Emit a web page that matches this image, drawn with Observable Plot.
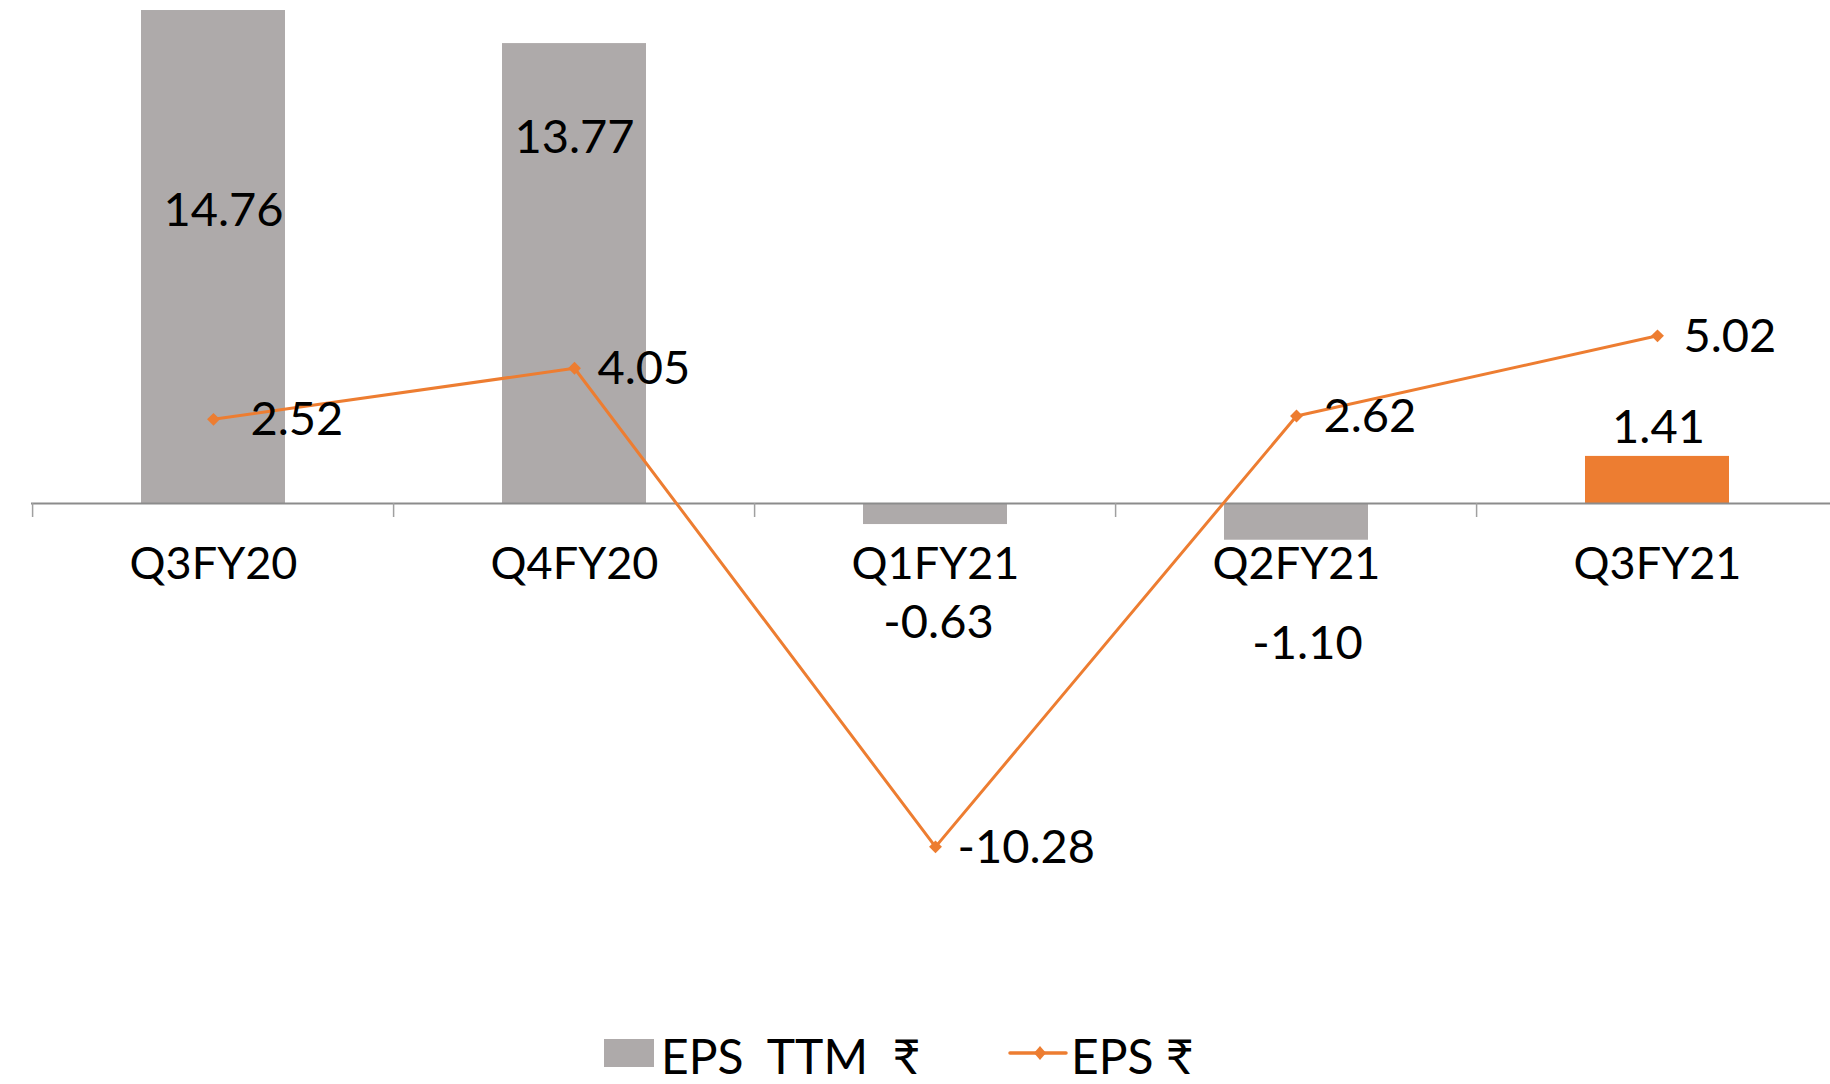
<!DOCTYPE html>
<html>
<head>
<meta charset="utf-8">
<script src="https://cdn.jsdelivr.net/npm/d3@7"></script>
<script src="https://cdn.jsdelivr.net/npm/@observablehq/plot@0.6"></script>
<style>
  html, body { margin: 0; padding: 0; background: #fff; }
  body { width: 1830px; height: 1084px; overflow: hidden; font-family: Lato, "Noto Sans", "DejaVu Sans", sans-serif; }
  #legend { position: relative; width: 1830px; height: 84px; }
  .lg-item { position: absolute; font-size: 48px; line-height: 48px; white-space: pre; color: #000; }
</style>
</head>
<body>
<div id="chart"></div>
<div id="legend"></div>
<script>
// ---- data ----
const categories = ["Q3FY20", "Q4FY20", "Q1FY21", "Q2FY21", "Q3FY21"];
const epsTTM = [14.76, 13.77, -0.63, -1.10, 1.41];
const eps = [2.52, 4.05, -10.28, 2.62, 5.02];
const highlight = "Q3FY21";
const seriesNames = ["EPS  TTM  \u20B9", "EPS \u20B9"];

// ---- styling / layout (not data) ----
const grey = "#AEAAAA";
const orange = "#ED7D31";
const W = 1830, H = 1000;
const xRange = [31, 1840];
const step = (xRange[1] - xRange[0]) / categories.length;
const barLabelDx = [10, 0, 3, 11, 1];
const barLabelDy = [200, 94, 98, 104, -28];
const lineLabelDx = [37, 23, 22, 27, 26];

const idx = categories.map((_, i) => i);

const chart = Plot.plot({
  width: W,
  height: H,
  marginLeft: 31,
  marginRight: 0,
  marginTop: 0,
  marginBottom: 0,
  style: {fontFamily: "Lato, 'Noto Sans', sans-serif", background: "#fff", color: "#000"},
  x: {type: "band", domain: categories, range: xRange, paddingInner: 0.6, paddingOuter: 0.3, axis: null},
  y: {domain: [-14, 15], range: [970.6, 2], axis: null},
  color: {type: "identity"},
  marks: [
    Plot.barY(idx, {
      x: i => categories[i],
      y: i => epsTTM[i],
      fill: i => categories[i] === highlight ? orange : grey
    }),
    Plot.ruleY([0], {stroke: "#8c8c8c", strokeWidth: 2.2}),
    Plot.ruleX(categories, {x: d => d, dx: -step / 2, y1: 0, y2: 0, insetBottom: -14, stroke: "#a0a0a0", strokeWidth: 1.5}),
    Plot.text(categories, {x: d => d, y: 0, dy: 61, text: d => d, fontSize: 45, fill: "#000"}),
    Plot.line(idx, {x: i => categories[i], y: i => eps[i], stroke: orange, strokeWidth: 3}),
    Plot.dot(idx, {x: i => categories[i], y: i => eps[i], symbol: "diamond2", r: 5.8, fill: orange, stroke: "none"}),
    ...idx.map(i => Plot.text([i], {
      x: j => categories[j], y: j => epsTTM[j], text: j => epsTTM[j].toFixed(2),
      dx: barLabelDx[i], dy: barLabelDy[i], fontSize: 47, fill: "#000"
    })),
    ...idx.map(i => Plot.text([i], {
      x: j => categories[j], y: j => eps[j], text: j => eps[j].toFixed(2),
      dx: lineLabelDx[i], dy: 1, textAnchor: "start", fontSize: 47, fill: "#000"
    }))
  ]
});
document.getElementById("chart").appendChild(chart);

// ---- legend (HTML, below the SVG) ----
const legend = document.getElementById("legend");
legend.innerHTML = `
  <div style="position:absolute;left:604px;top:39px;width:50px;height:28px;background:${grey}"></div>
  <div class="lg-item" style="left:661px;top:32px">${seriesNames[0]}</div>
  <svg style="position:absolute;left:1008px;top:43px" width="60" height="20">
    <line x1="2" y1="10" x2="58" y2="10" stroke="${orange}" stroke-width="3.5" stroke-linecap="round"/>
    <path d="M32,3 L38,10 L32,17 L26,10 Z" fill="${orange}"/>
  </svg>
  <div class="lg-item" style="left:1071px;top:32px">${seriesNames[1]}</div>
`;
</script>
</body>
</html>
